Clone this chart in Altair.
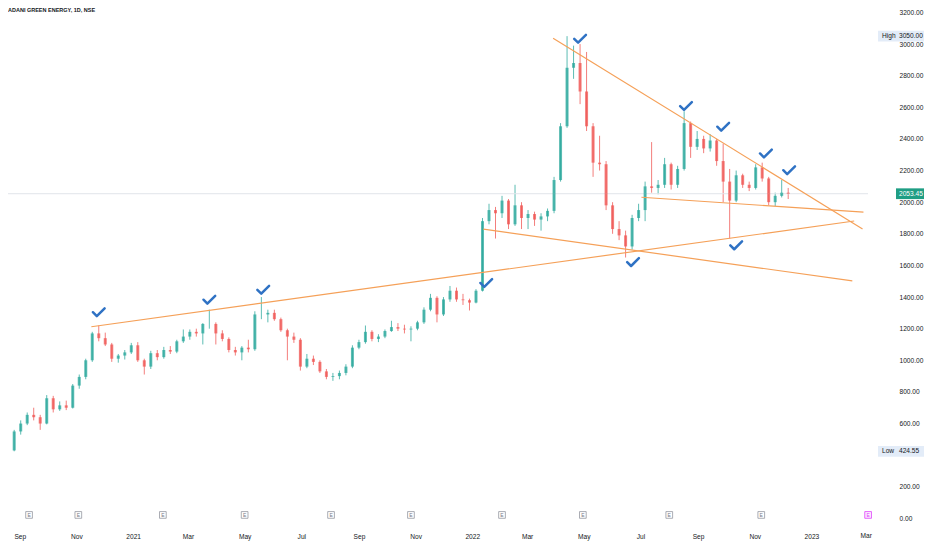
import altair as alt
import pandas as pd
import numpy as np

# ---------------- data ----------------
title_text = "ADANI GREEN ENERGY, 1D, NSE"

# weekly candles (first week centred on 2020-08-26, one per week)
week_first = "2020-08-26"
opens = [430, 550, 600, 655, 640, 600, 760, 690, 715, 700, 840, 895, 1000, 1170, 1140, 1100, 1010, 1030, 1050, 1095,
         1000, 960, 1045, 1020, 1065, 1055, 1120, 1150, 1180, 1170, 1230, 1230, 1170, 1135, 1065, 1050, 1080, 1070, 1290, 1290,
         1300, 1260, 1190, 1150, 1130, 960, 1010, 990, 930, 895, 900, 920, 960, 1080, 1115, 1180, 1135, 1150, 1185, 1210,
         1200, 1195, 1200, 1240, 1320, 1395, 1290, 1385, 1440, 1385, 1380, 1365, 1440, 1880, 1950, 1930, 2010, 1860, 1980, 1900,
         1925, 1890, 1910, 1945, 2140, 2480, 2850, 2880, 2700, 2480, 2250, 2240, 1980, 1830, 1790, 1720, 1900, 1950, 2100, 2090,
         2110, 2240, 2110, 2210, 2500, 2350, 2400, 2340, 2390, 2260, 2130, 2010, 2170, 2110, 2090, 2220, 2150, 2000, 2040, 2060]
highs = [560, 620, 670, 700, 655, 780, 775, 740, 745, 850, 910, 1010, 1180, 1220, 1175, 1110, 1040, 1065, 1110, 1115,
         1010, 1060, 1065, 1085, 1090, 1130, 1195, 1195, 1200, 1235, 1320, 1240, 1190, 1145, 1085, 1090, 1130, 1310, 1400, 1320,
         1320, 1270, 1200, 1175, 1140, 1040, 1030, 1000, 945, 920, 935, 975, 1095, 1130, 1220, 1190, 1165, 1195, 1250, 1235,
         1225, 1215, 1250, 1335, 1420, 1405, 1400, 1470, 1460, 1420, 1390, 1450, 1900, 1990, 1970, 2040, 2020, 2110, 2000, 1950,
         1940, 1930, 1960, 2160, 2500, 3050, 2990, 3000, 2950, 2500, 2420, 2260, 2000, 1880, 1820, 1920, 1990, 2130, 2380, 2140,
         2280, 2250, 2230, 2575, 2510, 2450, 2420, 2430, 2400, 2370, 2210, 2200, 2180, 2130, 2240, 2250, 2160, 2060, 2140, 2090]
lows = [424.55, 530, 590, 620, 560, 595, 670, 680, 685, 695, 820, 880, 990, 1120, 1090, 990, 985, 1005, 1040, 990,
        910, 945, 1000, 1010, 1040, 1045, 1110, 1130, 1150, 1100, 1200, 1100, 1120, 1050, 1030, 1000, 1050, 1060, 1260, 1240,
        1250, 1180, 1000, 1110, 935, 950, 970, 920, 880, 870, 880, 905, 950, 1070, 1105, 1120, 1115, 1140, 1180, 1185,
        1170, 1120, 1190, 1230, 1310, 1240, 1280, 1370, 1370, 1350, 1315, 1360, 1435, 1860, 1770, 1900, 1830, 1850, 1830, 1830,
        1850, 1820, 1880, 1930, 2130, 2470, 2780, 2620, 2450, 2160, 2200, 1950, 1800, 1760, 1650, 1700, 1880, 1880, 2060, 2050,
        2090, 2080, 2090, 2200, 2280, 2330, 2310, 2320, 2230, 2000, 1770, 2000, 2090, 2070, 2080, 2130, 1980, 1975, 2030, 2020]
closes = [550, 600, 655, 640, 600, 760, 690, 715, 700, 840, 895, 1000, 1170, 1140, 1100, 1010, 1030, 1050, 1095, 1000,
          960, 1045, 1020, 1065, 1055, 1120, 1150, 1180, 1170, 1230, 1230, 1170, 1135, 1065, 1050, 1080, 1070, 1290, 1290, 1300,
          1260, 1190, 1150, 1130, 960, 1010, 990, 930, 895, 900, 920, 960, 1080, 1115, 1180, 1135, 1150, 1185, 1210, 1200,
          1195, 1200, 1240, 1320, 1395, 1290, 1385, 1440, 1385, 1380, 1365, 1440, 1880, 1950, 1930, 2010, 1860, 1980, 1900, 1925,
          1890, 1910, 1945, 2140, 2480, 2850, 2880, 2700, 2480, 2250, 2240, 1980, 1830, 1790, 1720, 1900, 1950, 2100, 2090, 2110,
          2240, 2110, 2210, 2500, 2350, 2400, 2340, 2390, 2260, 2130, 2010, 2170, 2110, 2090, 2220, 2150, 2000, 2040, 2060, 2053.45]

# trend lines
line_start_dates = ["2020-11-17", "2022-03-29", "2022-07-02", "2022-01-13"]
line_start_prices = [1212, 3037, 2031, 1829]
line_end_dates = ["2023-02-16", "2023-02-25", "2023-02-26", "2023-02-14"]
line_end_prices = [1881, 1831, 1937, 1502]

# blue check marks
check_dates = ["2020-11-25", "2021-03-24", "2021-05-21", "2022-01-16", "2022-04-27", "2022-06-23",
               "2022-08-19", "2022-09-28", "2022-10-12", "2022-11-13", "2022-12-08"]
check_prices = [1302, 1381, 1444, 1487, 3031, 1619, 2606, 2475, 1725, 2306, 2200]

# earnings markers on the time axis
earn_dates = ["2020-09-11", "2020-11-03", "2021-02-02", "2021-05-01", "2021-08-02", "2021-10-27",
              "2022-02-02", "2022-04-30", "2022-08-01", "2022-11-08"]
upcoming_dates = ["2023-03-03"]

# axis ticks
month_ticks = ["2020-09-01", "2020-11-01", "2021-01-01", "2021-03-01", "2021-05-01", "2021-07-01",
               "2021-09-01", "2021-11-01", "2022-01-01", "2022-03-01", "2022-05-01", "2022-07-01",
               "2022-09-01", "2022-11-01", "2023-01-01"]
extra_tick_dates = ["2023-03-01"]
extra_tick_labels = ["Mar"]
# 400.00 sits under the "Low" price box in the reference
price_ticks = [p for p in range(0, 3201, 200) if p != 400]

# price labels on the right scale
box_kinds = ["High", "Last", "Low"]
box_titles = ["High", "", "Low"]
box_prices = [3050.00, 2053.45, 424.55]
box_texts = ["3050.00", "2053.45", "424.55"]
last_price = 2053.45

# ---------------- styling ----------------
W, H = 860, 512
FONT = "Liberation Sans"
GREEN, RED = "#26a69a", "#ef5350"
ORANGE = "#f5a058"
BLUE = "#2f72c4"
TXT = "#131722"


def ms(s):
    return int(pd.Timestamp(s, tz="UTC").value // 10**6)


x_scale = alt.Scale(type="utc", domain=[ms("2020-08-24T17:00"), ms("2023-02-25T12:00")])
y_scale = alt.Scale(domain=[-10, 3228], nice=False, zero=False)

x_axis = alt.Axis(values=[ms(d) for d in month_ticks],
                  labelExpr="utcFormat(datum.value, '%m') == '01' ? utcFormat(datum.value, '%Y') : utcFormat(datum.value, '%b')",
                  labelFontSize=6.6, labelFont=FONT, labelColor=TXT, labelPadding=13, labelFlush=False,
                  labelOverlap=False, ticks=False, domain=False, grid=False, title=None)
y_axis = alt.Axis(orient="right", values=price_ticks, format=".2f", labelFontSize=6.6, labelFont=FONT,
                  labelColor=TXT, labelPadding=31, ticks=False, domain=False, grid=False, title=None)


def X(field):
    return alt.X(field, scale=x_scale, axis=x_axis)


def Y(field):
    return alt.Y(field, scale=y_scale, axis=y_axis)


dates = pd.date_range(week_first, periods=len(opens), freq="7D").strftime("%Y-%m-%d")
candles = pd.DataFrame({"date": dates, "open": opens, "high": highs, "low": lows, "close": closes})
candles["dir"] = np.where(candles["close"] >= candles["open"], "up", "down")

color = alt.Color("dir:N", scale=alt.Scale(domain=["up", "down"], range=[GREEN, RED]), legend=None)

wicks = alt.Chart(candles).mark_rule(strokeWidth=1, opacity=0.75).encode(
    x=X("date:T"), y=Y("low:Q"), y2="high:Q", color=color)
bodies = alt.Chart(candles).mark_bar(size=3, opacity=0.75).encode(
    x=X("date:T"), y=Y("open:Q"), y2="close:Q", color=color)

price_line = alt.Chart(pd.DataFrame({"p": [last_price]})).mark_rule(color="#e1e4ea", strokeWidth=1).encode(
    y=Y("p:Q"))

lines_df = pd.DataFrame({"d1": line_start_dates, "p1": line_start_prices, "d2": line_end_dates, "p2": line_end_prices})
lines = alt.Chart(lines_df).mark_rule(color=ORANGE, strokeWidth=1.2).encode(
    x=X("d1:T"), x2="d2:T", y=Y("p1:Q"), y2="p2:Q")

checks_df = pd.DataFrame({"date": check_dates, "price": check_prices})
checks = alt.Chart(checks_df).mark_point(
    shape="M -0.9 -0.05 L -0.3 0.55 L 0.9 -0.65", filled=False, strokeWidth=2.5,
    strokeCap="round", strokeJoin="round", size=170, color=BLUE, opacity=1,
).encode(x=X("date:T"), y=Y("price:Q"))

ICON_PRICE = 22
earn_df = pd.DataFrame({"date": earn_dates, "p": [ICON_PRICE] * len(earn_dates), "t": ["E"] * len(earn_dates)})
earn_box = alt.Chart(earn_df).mark_point(shape="square", filled=True, fill="white", stroke="#9598a1",
                                         strokeWidth=0.8, size=45, opacity=1).encode(x=X("date:T"), y=Y("p:Q"))
earn_txt = alt.Chart(earn_df).mark_text(fontSize=5, font=FONT, color="#787b86").encode(
    x=X("date:T"), y=Y("p:Q"), text="t:N")

up_df = pd.DataFrame({"date": upcoming_dates, "p": [ICON_PRICE] * len(upcoming_dates), "t": ["E"] * len(upcoming_dates)})
up_box = alt.Chart(up_df).mark_point(shape="square", filled=True, fill="#fbeefe", stroke="#e040fb",
                                     strokeWidth=0.8, size=45, opacity=1).encode(x=X("date:T"), y=Y("p:Q"))
up_txt = alt.Chart(up_df).mark_text(fontSize=5, font=FONT, color="#e040fb").encode(
    x=X("date:T"), y=Y("p:Q"), text="t:N")

extra_df = pd.DataFrame({"date": extra_tick_dates, "t": extra_tick_labels})
extra_lbl = alt.Chart(extra_df).mark_text(fontSize=6.6, font=FONT, color=TXT, baseline="top").encode(
    x=X("date:T"), y=alt.value(H + 13), text="t:N")

BOX_PAD = 34
box_df = pd.DataFrame({"kind": box_kinds, "title": box_titles, "price": box_prices, "txt": box_texts})
box_df["top"] = box_df["price"] + BOX_PAD
box_df["bot"] = box_df["price"] - BOX_PAD
hl_df = box_df[box_df["kind"] != "Last"]
last_df = box_df[box_df["kind"] == "Last"]

hl_rect = alt.Chart(hl_df).mark_rect(color="#e3ecf8").encode(
    x=alt.value(870), x2=alt.value(916), y=Y("top:Q"), y2="bot:Q")
hl_title = alt.Chart(hl_df).mark_text(fontSize=6.6, font=FONT, color=TXT, align="left").encode(
    x=alt.value(874), y=Y("price:Q"), text="title:N")
hl_val = alt.Chart(hl_df).mark_text(fontSize=6.6, font=FONT, color=TXT, align="left").encode(
    x=alt.value(891), y=Y("price:Q"), text="txt:N")
last_rect = alt.Chart(last_df).mark_rect(color="#1f9e84").encode(
    x=alt.value(888), x2=alt.value(916), y=Y("top:Q"), y2="bot:Q")
last_val = alt.Chart(last_df).mark_text(fontSize=6.6, font=FONT, color="white", align="left").encode(
    x=alt.value(891), y=Y("price:Q"), text="txt:N")

title_df = pd.DataFrame({"t": [title_text]})
title = alt.Chart(title_df).mark_text(fontSize=5.5, font=FONT, fontWeight="bold", color=TXT,
                                      align="left", baseline="top").encode(
    x=alt.value(0), y=alt.value(0), text="t:N")

chart = alt.layer(
    wicks, price_line, bodies, lines, checks, earn_box, earn_txt, up_box, up_txt, extra_lbl,
    hl_rect, hl_title, hl_val, last_rect, last_val, title,
).properties(
    width=W, height=H,
    autosize=alt.AutoSizeParams(type="none"),
    padding={"left": 0, "top": 0, "right": 56, "bottom": 22},
    background="white",
).configure_view(stroke=None)

chart.save("out.html", embed_options={"renderer": "svg", "actions": False})
